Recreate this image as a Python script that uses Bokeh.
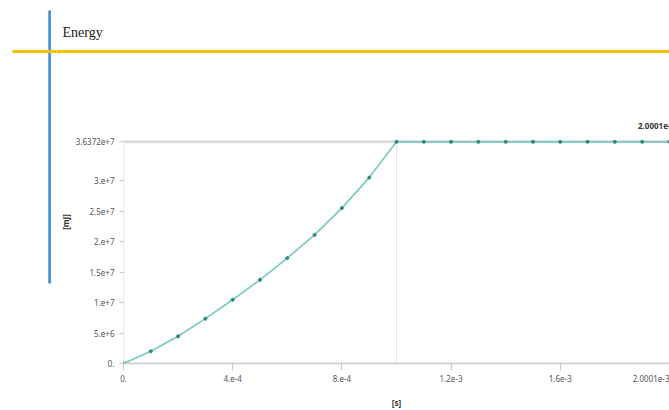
from bokeh.plotting import figure
from bokeh.models import FixedTicker, Span, BoxAnnotation, Label, Range1d
from bokeh.layouts import row, column
from bokeh.embed import file_html
from bokeh.resources import INLINE

# ---- data ----
time_s = [0.0, 1e-4, 2e-4, 3e-4, 4e-4, 5e-4, 6e-4, 7e-4, 8e-4, 9e-4, 1e-3,
          1.1e-3, 1.2e-3, 1.3e-3, 1.4e-3, 1.5e-3, 1.6e-3, 1.7e-3, 1.8e-3, 1.9e-3, 2.0001e-3]
energy_mj = [0.0, 2.0e6, 4.46e6, 7.36e6, 10.46e6, 13.73e6, 17.3e6, 21.1e6, 25.5e6, 30.5e6, 3.6372e7,
             3.6372e7, 3.6372e7, 3.6372e7, 3.6372e7, 3.6372e7, 3.6372e7, 3.6372e7, 3.6372e7, 3.6372e7, 3.6372e7]

x_ticks = [0.0, 4e-4, 8e-4, 1.2e-3, 1.6e-3, 2.0001e-3]
x_tick_labels = ["0.", "4.e-4", "8.e-4", "1.2e-3", "1.6e-3", "2.0001e-3"]
y_ticks = [0.0, 5e6, 1e7, 1.5e7, 2e7, 2.5e7, 3e7, 3.6372e7]
y_tick_labels = ["0.", "5.e+6", "1.e+7", "1.5e+7", "2.e+7", "2.5e+7", "3.e+7", "3.6372e+7"]
end_label = "2.0001e-3"
title_text = "Energy"
x_label = "[s]"
y_label = "[mJ]"

y_max = max(energy_mj)
t_peak = time_s[energy_mj.index(y_max)]

TEAL_LINE = "#7ccac3"
TEAL_DOT = "#2a8a82"
TICK_FONT = "Noto Sans"
BLUE = "#3d8fd1"
YELLOW = "#f5c000"

W, H = 669, 410
LEFT_W = 56
HEAD_H = 80
BODY_H = H - HEAD_H
AXIS_Y = 364            # page row of the x axis


def deco_fig(w, h):
    f = figure(width=w, height=h, output_backend="svg", toolbar_location=None,
               x_range=Range1d(0, w), y_range=Range1d(0, h),
               x_axis_type=None, y_axis_type=None,
               min_border=0, min_border_left=0, min_border_right=0,
               min_border_top=0, min_border_bottom=0)
    f.outline_line_color = None
    f.grid.visible = False
    return f


# ---- left strip (full height): blue bar + start of yellow rule ----
left = deco_fig(LEFT_W, H)
left.add_layout(BoxAnnotation(left=47.8, right=50.4, top=H - 10, bottom=H - 283,
                              fill_color=BLUE, fill_alpha=1, line_color=None))
left.add_layout(BoxAnnotation(left=12, right=LEFT_W + 4, top=H - 49.6, bottom=H - 52.6,
                              fill_color=YELLOW, fill_alpha=1, line_color=None))

# ---- header: rest of yellow rule + title ----
HW = W - LEFT_W
head = deco_fig(HW, HEAD_H)
head.add_layout(BoxAnnotation(left=-4, right=HW + 4, top=HEAD_H - 49.6, bottom=HEAD_H - 52.6,
                              fill_color=YELLOW, fill_alpha=1, line_color=None))
head.add_layout(Label(x=62 - LEFT_W, y=HEAD_H - 32, text=title_text,
                      text_font="Liberation Serif", text_font_size="14px", text_color="#222222",
                      text_baseline="middle", text_align="left"))

# ---- main chart ----
p = figure(width=W - LEFT_W, height=BODY_H, output_backend="svg", toolbar_location=None,
           x_range=Range1d(0, 2.0002e-3), y_range=Range1d(0, 4.643e7),
           min_border_left=120 - LEFT_W, min_border_right=0, min_border_top=0,
           min_border_bottom=H - AXIS_Y)
p.outline_line_color = None
p.grid.visible = False

xa = p.xaxis[0]
xa.ticker = FixedTicker(ticks=x_ticks)
xa.major_label_overrides = {t: l for t, l in zip(x_ticks, x_tick_labels)}
xa.axis_line_color = "#c8c8c8"
xa.axis_line_width = 1.5
xa.major_tick_line_color = "#c8c8c8"
xa.major_tick_out = 7
xa.major_tick_in = 0
xa.minor_tick_line_color = None
xa.major_label_standoff = 4
xa.major_label_text_font = TICK_FONT
xa.major_label_text_font_size = "8px"
xa.major_label_text_color = "#555555"
xa.axis_label = x_label
xa.axis_label_text_font = TICK_FONT
xa.axis_label_text_font_size = "8px"
xa.axis_label_text_font_style = "bold"
xa.axis_label_text_color = "#333333"
xa.axis_label_standoff = 12

ya = p.yaxis[0]
ya.ticker = FixedTicker(ticks=y_ticks)
ya.major_label_overrides = {t: l for t, l in zip(y_ticks, y_tick_labels)}
ya.axis_line_color = None
ya.major_tick_line_color = "#c8c8c8"
ya.major_tick_out = 4
ya.major_tick_in = 0
ya.minor_tick_line_color = None
ya.major_label_standoff = 5
ya.major_label_text_font = TICK_FONT
ya.major_label_text_font_size = "8px"
ya.major_label_text_color = "#555555"
ya.axis_label = y_label
ya.axis_label_text_font = TICK_FONT
ya.axis_label_text_font_size = "8px"
ya.axis_label_text_font_style = "bold"
ya.axis_label_text_color = "#333333"
ya.axis_label_standoff = 2

# reference lines
p.add_layout(Span(location=y_max, dimension="width", line_color="#dcdcdc",
                  line_width=3, level="underlay"))
p.segment(x0=[t_peak], y0=[0], x1=[t_peak], y1=[y_max], line_color="#e8e8e8", line_width=1)
p.segment(x0=[0], y0=[0], x1=[0], y1=[y_max], line_color="#dddddd", line_width=1.5)

# series
p.line(time_s, energy_mj, line_color=TEAL_LINE, line_width=1.7)
p.scatter(time_s, energy_mj, size=3, fill_color=TEAL_DOT, line_color=TEAL_DOT)

# end-point label
p.add_layout(Label(x=t_peak, y=y_max, x_offset=(636 - 120) - (1e-3 / 2.0002e-3) * 549, y_offset=16,
                   text=end_label, text_font=TICK_FONT, text_font_size="8px",
                   text_font_style="bold", text_color="#333333",
                   text_baseline="middle", text_align="left"))

layout = row(left, column(row(head, spacing=0), p, spacing=0), spacing=0)

open("out.html", "w").write(file_html(layout, INLINE))
